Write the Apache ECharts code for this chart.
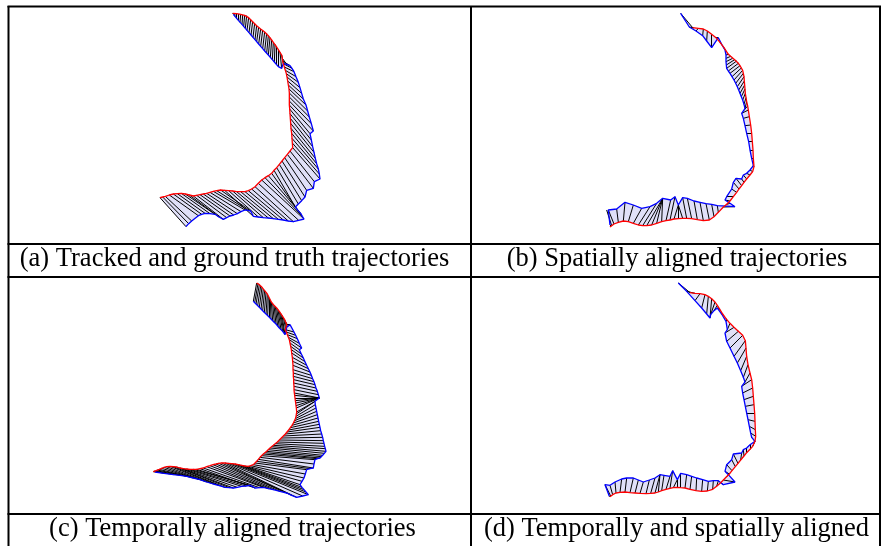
<!DOCTYPE html>
<html>
<head>
<meta charset="utf-8">
<script src="https://cdn.jsdelivr.net/npm/echarts@6/dist/echarts.min.js"></script>
<style>
  html, body { margin: 0; padding: 0; background: #fff; }
  #main { width: 881px; height: 546px; }
</style>
</head>
<body>
<div id="main"></div>
<script>
// trajectories, in panel units (3 units = 1 px); gt[i] is matched to tr[i]
// (a) tracked and ground truth
var gtA = [[248,25],[254,25],[260,26],[266,27],[272,28],[278,30],[284,31],[290,32],[296,38],[302,44],[308,50],[314,56],[320,62],[326,67],[332,72],[338,76],[344,81],[350,85],[355,92],[360,98],[365,105],[370,112],[375,118],[380,126],[385,134],[390,142],[395,150],
  [397,160],[398,168],[400,176],[403,186],[406,196],[409,206],[411,216],[413,228],[415,240],[417,252],[418,264],[418,276],[418,288],[418,300],[419,312],[420,326],[421,340],[422,355],[423,370],[425,385],[426,400],[427,414],[428,428],
  [420,438],[412,448],[404,458],[396,468],[388,478],[380,488],[372,496],[365,505],[355,512],[345,518],[335,525],[325,535],[315,545],[305,552],[295,557],[285,560],[272,560],[260,560],[248,558],[236,557],[224,556],
  [212,555],[200,557],[190,559],[180,562],[170,565],[160,567],[150,569],[140,571],[130,573],[118,570],[106,567],[94,565],[82,566],[70,567],[58,570],[46,574],[38,576],[30,578]];
var trA = [[250,28],[255,34],[260,40],[265,46],[270,52],[276,58],[281,64],[286,70],[291,76],[297,83],[303,90],[309,97],[315,104],[320,110],[326,117],[332,124],[338,131],[344,138],[350,144],[355,150],[361,157],[367,164],[373,171],[379,178],[385,185],[395,190],[400,175],
  [410,178],[420,182],[426,190],[432,200],[438,215],[445,232],[450,248],[455,265],[460,282],[468,300],[473,318],[478,336],[484,356],[490,378],[480,386],[484,405],[488,425],[492,442],[496,460],[500,476],[505,492],[508,507],[510,522],
  [493,530],[490,550],[470,556],[465,576],[455,587],[445,597],[436,606],[444,616],[452,625],[457,634],[462,642],[446,646],[430,650],[415,648],[400,645],[385,643],[370,641],[355,639],[340,638],[325,636],[310,634],
  [302,618],[294,616],[285,615],[273,620],[262,626],[251,630],[240,633],[230,638],[220,643],[207,636],[195,628],[180,626],[165,625],[155,628],[145,632],[125,648],[116,656],[108,665]];

// (b) spatially aligned
var gtB = [[308,68],[312,69],[325,70],[340,72],[352,78],[365,88],[378,98],[390,112],[402,128],
  [415,148],[422,154],[428,160],[434,164],[440,168],[445,175],[450,182],[454,189],[458,196],[460,205],[462,215],[463,228],[464,240],[465,252],[466,265],[468,278],[470,290],[473,303],[475,315],
  [478,335],[482,360],[485,385],[487,410],[489,435],[490,460],[492,485],[488,500],[480,510],[470,522],[462,532],[455,542],[447,552],[440,562],[430,575],[420,588],[410,598],[400,606],
  [385,622],[372,635],[358,645],[340,647],[322,644],[305,641],[290,640],[278,640],[265,641],[252,642],[240,645],[228,647],[215,650],[200,655],[185,660],[170,662],[158,662],[145,660],[130,655],[115,650],[100,648],[85,652],[72,657],[65,662],[60,666]];
var trB = [[272,25],[298,66],[318,78],[338,92],[350,108],[365,128],[385,98],[395,118],[405,135],
  [408,150],[408,160],[408,170],[409,180],[410,190],[415,198],[420,205],[426,215],[432,225],[437,235],[442,245],[446,255],[450,265],[454,275],[458,285],[462,298],[465,310],[460,318],[455,325],
  [460,340],[465,362],[470,385],[476,410],[480,435],[485,460],[490,482],[480,495],[470,505],[460,510],[455,522],[438,520],[430,532],[425,552],[410,575],[405,585],[420,595],[435,605],
  [382,602],[365,598],[348,596],[330,592],[312,588],[292,580],[278,578],[265,600],[265,600],[265,600],[255,575],[242,585],[218,580],[218,580],[218,580],[218,580],[200,595],[180,605],[155,610],[130,600],[105,592],[80,612],[55,615],[50,615],[60,660]];

// (c) temporally aligned
var gtC = [[350,15],[354,17],[358,20],[362,24],[366,28],[370,33],[374,38],[378,43],[382,48],[385,54],[388,60],[391,66],[394,72],[398,77],[402,82],[406,86],[410,90],[414,95],[418,100],[422,106],[426,112],[430,118],[434,125],[437,132],[440,140],
  [436,155],[439,162],[442,170],[445,178],[448,185],[450,195],[452,205],[454,215],[455,225],[457,238],[458,250],[459,262],[459,275],[460,285],[460,295],[461,305],[461,315],[462,325],[462,335],[463,345],
  [464,352],[465,360],[466,368],[467,375],[468,383],[469,390],[470,402],[469,408],[468,415],[466,422],[464,428],[460,435],[456,442],[451,449],[446,456],[441,462],[436,468],[430,474],[424,480],[418,486],[412,492],[406,497],[400,502],[395,506],
  [390,510],[385,515],[380,520],[375,524],[370,528],[365,533],[360,538],[355,544],[350,550],[345,555],[340,560],[332,563],[325,565],[315,564],[305,562],[295,560],[285,558],[275,557],[265,556],[255,555],[245,555],[236,556],[228,558],[219,560],
  [210,563],[200,566],[190,570],[180,572],[170,574],[160,574],[150,574],[140,573],[130,572],[120,570],[110,567],[100,566],[90,565],[80,566],[72,568],[65,571],[58,574],[52,576],[48,578],[44,579],[42,580],[40,581]];
var trC = [[340,70],[344,74],[348,78],[353,83],[358,88],[363,93],[368,98],[373,103],[378,108],[383,113],[388,118],[393,123],[398,128],[403,133],[408,138],[413,144],[418,150],[423,155],[428,160],[432,165],[435,170],[438,158],[440,148],[445,144],[450,140],
  [462,162],[467,172],[472,182],[478,196],[485,210],[478,215],[484,228],[490,240],[495,251],[500,262],[505,272],[510,282],[514,292],[518,302],[522,311],[525,320],[528,330],[532,340],[535,350],[538,360],
  [538,360],[538,360],[538,360],[538,360],[538,360],[538,360],[525,370],[525,370],[526,380],[528,390],[530,400],[532,410],[534,420],[536,430],[538,439],[540,448],[542,458],[545,468],[548,478],[550,488],[552,496],[554,505],[556,512],[558,520],
  [553,526],[548,532],[544,536],[540,540],[532,542],[525,545],[522,558],[520,570],[510,572],[500,575],[496,588],[492,600],[486,610],[480,620],[486,628],[492,635],[498,642],[505,650],[488,654],[470,658],[455,652],[440,645],[420,640],[400,635],
  [385,632],[370,628],[358,629],[345,630],[338,626],[330,622],[318,624],[305,625],[292,628],[280,630],[268,629],[255,628],[238,623],[220,618],[200,612],[180,605],[160,600],[140,595],[120,592],[100,590],[72,586],[45,582]];

// (d) temporally and spatially aligned
var gtD = [[300,44],[315,46],[330,47],[345,50],[355,55],[365,62],[375,72],[382,82],[390,95],[398,108],[408,122],[420,136],[432,148],[445,160],[458,172],[466,188],[468,210],[470,235],[474,260],[480,285],[485,305],[488,330],[490,355],[492,380],[494,405],[495,430],[496,455],[497,475],[495,490],[488,505],[480,514],[470,524],[462,534],[452,546],[444,556],[436,566],[426,578],[418,588],[408,598],[400,606],[392,614],[380,625],[368,634],[352,639],[335,640],[318,638],[300,634],[285,630],[272,629],[262,628],[250,629],[240,631],[228,634],[215,638],[205,642],[195,645],[182,646],[168,647],[150,646],[135,645],[120,644],[105,642],[90,643],[78,645],[68,650],[62,654],[60,656]];
var trD = [[265,15],[290,40],[315,68],[335,90],[350,108],[360,120],[362,110],[372,98],[382,90],[395,108],[408,130],[412,155],[405,165],[410,190],[420,210],[432,235],[442,255],[452,278],[460,298],[465,312],[455,325],[458,345],[462,365],[466,385],[470,405],[474,425],[478,445],[482,465],[485,478],[495,490],[480,500],[470,510],[460,515],[455,525],[430,528],[425,545],[410,560],[405,580],[415,590],[435,612],[400,620],[385,608],[370,608],[355,610],[338,605],[320,600],[305,595],[290,590],[272,586],[262,605],[262,605],[248,578],[240,595],[222,592],[210,590],[210,590],[195,600],[178,606],[160,612],[145,606],[130,600],[110,600],[95,603],[75,612],[60,622],[45,620],[58,655]];

var captions = [
  '(a) Tracked and ground truth trajectories',
  '(b) Spatially aligned trajectories',
  '(c) Temporally aligned trajectories',
  '(d) Temporally and spatially aligned'
];

var chart = echarts.init(document.getElementById('main'), null, { renderer: 'canvas' });

// panel boxes (px) for the four plots
var panels = [
  { left: 150, top: 5,   w: 180, h: 240, gt: gtA, tr: trA },
  { left: 590, top: 5,   w: 180, h: 240, gt: gtB, tr: trB },
  { left: 140, top: 278, w: 200, h: 240, gt: gtC, tr: trC },
  { left: 590, top: 278, w: 180, h: 240, gt: gtD, tr: trD }
];

var grids = [], xAxes = [], yAxes = [], series = [];

panels.forEach(function (p, k) {
  grids.push({ left: p.left, top: p.top, width: p.w, height: p.h, containLabel: false });
  xAxes.push({ type: 'value', gridIndex: k, min: 0, max: p.w * 3, show: false });
  yAxes.push({ type: 'value', gridIndex: k, min: 0, max: p.h * 3, inverse: true, show: false });

  var n = Math.min(p.gt.length, p.tr.length);
  var quads = [], links = [];
  for (var i = 0; i < n; i++) {
    links.push({ coords: [p.gt[i], p.tr[i]] });
    if (i < n - 1) {
      quads.push([p.gt[i][0], p.gt[i][1], p.gt[i + 1][0], p.gt[i + 1][1],
                  p.tr[i + 1][0], p.tr[i + 1][1], p.tr[i][0], p.tr[i][1]]);
    }
  }

  // 填充
  series.push({
    type: 'custom',
    xAxisIndex: k, yAxisIndex: k,
    silent: true,
    encode: { x: [0, 2, 4, 6], y: [1, 3, 5, 7] },
    data: quads,
    renderItem: function (params, api) {
      var pts = [];
      for (var j = 0; j < 4; j++) {
        pts.push(api.coord([api.value(j * 2), api.value(j * 2 + 1)]));
      }
      return {
        type: 'polygon',
        shape: { points: pts },
        style: { fill: '#e0e0f8', stroke: '#e0e0f8', lineWidth: 0.5 }
      };
    },
    z: 1
  });
  // 对应连线
  series.push({
    type: 'lines',
    coordinateSystem: 'cartesian2d',
    xAxisIndex: k, yAxisIndex: k,
    silent: true,
    data: links,
    lineStyle: { color: '#000', width: 1, opacity: 1 },
    z: 2
  });
  // tracked
  series.push({
    type: 'line',
    xAxisIndex: k, yAxisIndex: k,
    data: p.tr,
    symbol: 'none',
    silent: true,
    lineStyle: { color: '#0000ff', width: 1.3 },
    z: 3
  });
  // ground truth
  series.push({
    type: 'line',
    xAxisIndex: k, yAxisIndex: k,
    data: p.gt,
    symbol: 'none',
    silent: true,
    lineStyle: { color: '#ff0000', width: 1.3 },
    z: 4
  });
});

// table rules
var rule = { stroke: '#000', lineWidth: 2 };
var graphics = [];
[6.5, 244, 277, 514, 547].forEach(function (y) {
  graphics.push({ type: 'line', shape: { x1: 7.5, y1: y, x2: 881, y2: y }, style: rule });
});
[8.5, 471, 880].forEach(function (x) {
  graphics.push({ type: 'line', shape: { x1: x, y1: 6, x2: x, y2: 547 }, style: rule });
});

var capPos = [[234.5, 259.5], [677, 259.5], [232.5, 529.5], [676.5, 529.5]];
captions.forEach(function (t, k) {
  graphics.push({
    type: 'text',
    x: capPos[k][0], y: capPos[k][1],
    style: {
      text: t,
      fontFamily: 'Liberation Serif',
      fontSize: 26.5,
      fill: '#000',
      textAlign: 'center',
      textVerticalAlign: 'middle'
    }
  });
});

chart.setOption({
  backgroundColor: '#fff',
  animation: false,
  grid: grids,
  xAxis: xAxes,
  yAxis: yAxes,
  series: series,
  graphic: graphics
});
</script>
</body>
</html>
